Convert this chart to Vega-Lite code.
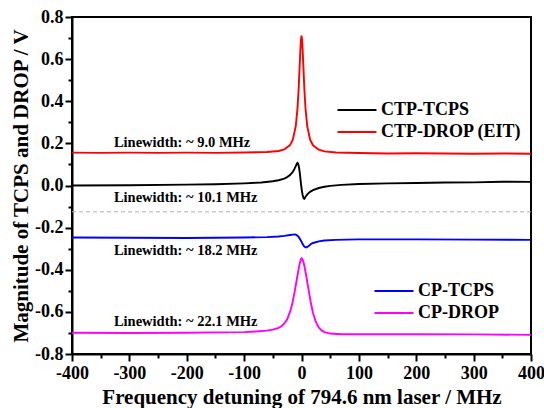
{
  "$schema": "https://vega.github.io/schema/vega-lite/v6.json",
  "width": 459,
  "height": 337,
  "autosize": {"type": "none"},
  "padding": {"left": 72, "top": 17, "right": 13, "bottom": 54},
  "background": "white",
  "datasets": {
    "curves": [
      {"s": "CTP-DROP (EIT)", "x": -400, "y": 0.156},
      {"s": "CTP-DROP (EIT)", "x": -350, "y": 0.155},
      {"s": "CTP-DROP (EIT)", "x": -300, "y": 0.156},
      {"s": "CTP-DROP (EIT)", "x": -250, "y": 0.155},
      {"s": "CTP-DROP (EIT)", "x": -200, "y": 0.156},
      {"s": "CTP-DROP (EIT)", "x": -150, "y": 0.155},
      {"s": "CTP-DROP (EIT)", "x": -100, "y": 0.157},
      {"s": "CTP-DROP (EIT)", "x": -60, "y": 0.159},
      {"s": "CTP-DROP (EIT)", "x": -40, "y": 0.164},
      {"s": "CTP-DROP (EIT)", "x": -30, "y": 0.171},
      {"s": "CTP-DROP (EIT)", "x": -20, "y": 0.192},
      {"s": "CTP-DROP (EIT)", "x": -15, "y": 0.219},
      {"s": "CTP-DROP (EIT)", "x": -10, "y": 0.282},
      {"s": "CTP-DROP (EIT)", "x": -7, "y": 0.365},
      {"s": "CTP-DROP (EIT)", "x": -5, "y": 0.457},
      {"s": "CTP-DROP (EIT)", "x": -3, "y": 0.581},
      {"s": "CTP-DROP (EIT)", "x": -2, "y": 0.643},
      {"s": "CTP-DROP (EIT)", "x": -1, "y": 0.690},
      {"s": "CTP-DROP (EIT)", "x": 0, "y": 0.711},
      {"s": "CTP-DROP (EIT)", "x": 1, "y": 0.690},
      {"s": "CTP-DROP (EIT)", "x": 2, "y": 0.643},
      {"s": "CTP-DROP (EIT)", "x": 3, "y": 0.581},
      {"s": "CTP-DROP (EIT)", "x": 5, "y": 0.457},
      {"s": "CTP-DROP (EIT)", "x": 7, "y": 0.365},
      {"s": "CTP-DROP (EIT)", "x": 10, "y": 0.282},
      {"s": "CTP-DROP (EIT)", "x": 15, "y": 0.218},
      {"s": "CTP-DROP (EIT)", "x": 20, "y": 0.191},
      {"s": "CTP-DROP (EIT)", "x": 30, "y": 0.170},
      {"s": "CTP-DROP (EIT)", "x": 40, "y": 0.162},
      {"s": "CTP-DROP (EIT)", "x": 60, "y": 0.157},
      {"s": "CTP-DROP (EIT)", "x": 100, "y": 0.154},
      {"s": "CTP-DROP (EIT)", "x": 150, "y": 0.152},
      {"s": "CTP-DROP (EIT)", "x": 200, "y": 0.153},
      {"s": "CTP-DROP (EIT)", "x": 250, "y": 0.152},
      {"s": "CTP-DROP (EIT)", "x": 300, "y": 0.151},
      {"s": "CTP-DROP (EIT)", "x": 350, "y": 0.152},
      {"s": "CTP-DROP (EIT)", "x": 400, "y": 0.151},

      {"s": "CTP-TCPS", "x": -400, "y": 0.000},
      {"s": "CTP-TCPS", "x": -300, "y": 0.001},
      {"s": "CTP-TCPS", "x": -200, "y": 0.004},
      {"s": "CTP-TCPS", "x": -150, "y": 0.006},
      {"s": "CTP-TCPS", "x": -100, "y": 0.010},
      {"s": "CTP-TCPS", "x": -70, "y": 0.014},
      {"s": "CTP-TCPS", "x": -50, "y": 0.020},
      {"s": "CTP-TCPS", "x": -40, "y": 0.025},
      {"s": "CTP-TCPS", "x": -30, "y": 0.033},
      {"s": "CTP-TCPS", "x": -25, "y": 0.040},
      {"s": "CTP-TCPS", "x": -20, "y": 0.050},
      {"s": "CTP-TCPS", "x": -15, "y": 0.065},
      {"s": "CTP-TCPS", "x": -12, "y": 0.080},
      {"s": "CTP-TCPS", "x": -10, "y": 0.092},
      {"s": "CTP-TCPS", "x": -8, "y": 0.104},
      {"s": "CTP-TCPS", "x": -7, "y": 0.107},
      {"s": "CTP-TCPS", "x": -6, "y": 0.104},
      {"s": "CTP-TCPS", "x": -5, "y": 0.095},
      {"s": "CTP-TCPS", "x": -4, "y": 0.080},
      {"s": "CTP-TCPS", "x": -3, "y": 0.060},
      {"s": "CTP-TCPS", "x": -2, "y": 0.035},
      {"s": "CTP-TCPS", "x": -1, "y": 0.010},
      {"s": "CTP-TCPS", "x": 0, "y": -0.012},
      {"s": "CTP-TCPS", "x": 1, "y": -0.030},
      {"s": "CTP-TCPS", "x": 2, "y": -0.045},
      {"s": "CTP-TCPS", "x": 3, "y": -0.056},
      {"s": "CTP-TCPS", "x": 4, "y": -0.062},
      {"s": "CTP-TCPS", "x": 5, "y": -0.063},
      {"s": "CTP-TCPS", "x": 6, "y": -0.058},
      {"s": "CTP-TCPS", "x": 8, "y": -0.050},
      {"s": "CTP-TCPS", "x": 10, "y": -0.042},
      {"s": "CTP-TCPS", "x": 15, "y": -0.030},
      {"s": "CTP-TCPS", "x": 20, "y": -0.022},
      {"s": "CTP-TCPS", "x": 30, "y": -0.012},
      {"s": "CTP-TCPS", "x": 40, "y": -0.006},
      {"s": "CTP-TCPS", "x": 50, "y": -0.002},
      {"s": "CTP-TCPS", "x": 70, "y": 0.003},
      {"s": "CTP-TCPS", "x": 100, "y": 0.007},
      {"s": "CTP-TCPS", "x": 150, "y": 0.010},
      {"s": "CTP-TCPS", "x": 200, "y": 0.012},
      {"s": "CTP-TCPS", "x": 250, "y": 0.014},
      {"s": "CTP-TCPS", "x": 300, "y": 0.015},
      {"s": "CTP-TCPS", "x": 350, "y": 0.018},
      {"s": "CTP-TCPS", "x": 400, "y": 0.017},

      {"s": "CP-TCPS", "x": -400, "y": -0.247},
      {"s": "CP-TCPS", "x": -300, "y": -0.248},
      {"s": "CP-TCPS", "x": -200, "y": -0.249},
      {"s": "CP-TCPS", "x": -100, "y": -0.247},
      {"s": "CP-TCPS", "x": -60, "y": -0.245},
      {"s": "CP-TCPS", "x": -40, "y": -0.242},
      {"s": "CP-TCPS", "x": -30, "y": -0.239},
      {"s": "CP-TCPS", "x": -20, "y": -0.235},
      {"s": "CP-TCPS", "x": -15, "y": -0.233},
      {"s": "CP-TCPS", "x": -12, "y": -0.232},
      {"s": "CP-TCPS", "x": -10, "y": -0.233},
      {"s": "CP-TCPS", "x": -8, "y": -0.236},
      {"s": "CP-TCPS", "x": -5, "y": -0.244},
      {"s": "CP-TCPS", "x": -2, "y": -0.257},
      {"s": "CP-TCPS", "x": 0, "y": -0.267},
      {"s": "CP-TCPS", "x": 2, "y": -0.278},
      {"s": "CP-TCPS", "x": 4, "y": -0.287},
      {"s": "CP-TCPS", "x": 6, "y": -0.292},
      {"s": "CP-TCPS", "x": 8, "y": -0.294},
      {"s": "CP-TCPS", "x": 10, "y": -0.292},
      {"s": "CP-TCPS", "x": 13, "y": -0.286},
      {"s": "CP-TCPS", "x": 16, "y": -0.279},
      {"s": "CP-TCPS", "x": 20, "y": -0.273},
      {"s": "CP-TCPS", "x": 30, "y": -0.265},
      {"s": "CP-TCPS", "x": 40, "y": -0.261},
      {"s": "CP-TCPS", "x": 60, "y": -0.258},
      {"s": "CP-TCPS", "x": 100, "y": -0.256},
      {"s": "CP-TCPS", "x": 200, "y": -0.256},
      {"s": "CP-TCPS", "x": 300, "y": -0.257},
      {"s": "CP-TCPS", "x": 400, "y": -0.258},

      {"s": "CP-DROP", "x": -400, "y": -0.699},
      {"s": "CP-DROP", "x": -300, "y": -0.700},
      {"s": "CP-DROP", "x": -200, "y": -0.699},
      {"s": "CP-DROP", "x": -100, "y": -0.696},
      {"s": "CP-DROP", "x": -80, "y": -0.693},
      {"s": "CP-DROP", "x": -60, "y": -0.689},
      {"s": "CP-DROP", "x": -50, "y": -0.684},
      {"s": "CP-DROP", "x": -40, "y": -0.676},
      {"s": "CP-DROP", "x": -35, "y": -0.668},
      {"s": "CP-DROP", "x": -30, "y": -0.655},
      {"s": "CP-DROP", "x": -25, "y": -0.635},
      {"s": "CP-DROP", "x": -20, "y": -0.600},
      {"s": "CP-DROP", "x": -16, "y": -0.560},
      {"s": "CP-DROP", "x": -12, "y": -0.505},
      {"s": "CP-DROP", "x": -8, "y": -0.442},
      {"s": "CP-DROP", "x": -5, "y": -0.397},
      {"s": "CP-DROP", "x": -3, "y": -0.369},
      {"s": "CP-DROP", "x": -1, "y": -0.350},
      {"s": "CP-DROP", "x": 0, "y": -0.346},
      {"s": "CP-DROP", "x": 1, "y": -0.347},
      {"s": "CP-DROP", "x": 3, "y": -0.360},
      {"s": "CP-DROP", "x": 5, "y": -0.381},
      {"s": "CP-DROP", "x": 8, "y": -0.425},
      {"s": "CP-DROP", "x": 12, "y": -0.490},
      {"s": "CP-DROP", "x": 16, "y": -0.553},
      {"s": "CP-DROP", "x": 20, "y": -0.605},
      {"s": "CP-DROP", "x": 25, "y": -0.648},
      {"s": "CP-DROP", "x": 30, "y": -0.674},
      {"s": "CP-DROP", "x": 35, "y": -0.688},
      {"s": "CP-DROP", "x": 40, "y": -0.696},
      {"s": "CP-DROP", "x": 50, "y": -0.703},
      {"s": "CP-DROP", "x": 70, "y": -0.706},
      {"s": "CP-DROP", "x": 100, "y": -0.706},
      {"s": "CP-DROP", "x": 200, "y": -0.706},
      {"s": "CP-DROP", "x": 300, "y": -0.707},
      {"s": "CP-DROP", "x": 400, "y": -0.709}
    ],
    "notes": [
      {"x": -327, "y": 0.200, "t": "Linewidth: ~ 9.0 MHz"},
      {"x": -327, "y": -0.057, "t": "Linewidth: ~ 10.1 MHz"},
      {"x": -327, "y": -0.313, "t": "Linewidth: ~ 18.2 MHz"},
      {"x": -327, "y": -0.646, "t": "Linewidth: ~ 22.1 MHz"}
    ]
  },
  "layer": [
    {
      "data": {"values": [{"v": -0.125}]},
      "mark": {"type": "rule", "color": "#b0b0b0", "strokeDash": [4, 3], "strokeWidth": 1},
      "encoding": {
        "y": {"field": "v", "type": "quantitative", "axis": null}
      }
    },
    {
      "data": {"name": "curves"},
      "transform": [{"filter": {"field": "s", "oneOf": ["CTP-TCPS", "CTP-DROP (EIT)"]}}],
      "mark": {"type": "line", "strokeWidth": 1.9, "clip": true},
      "encoding": {
        "x": {
          "field": "x", "type": "quantitative",
          "scale": {"domain": [-400, 400], "nice": false, "zero": false},
          "axis": {
            "orient": "bottom",
            "values": [-400, -350, -300, -250, -200, -150, -100, -50, 0, 50, 100, 150, 200, 250, 300, 350, 400],
            "labelExpr": "datum.value % 100 != 0 ? '' : (datum.value < 0 ? '-' + format(-datum.value, 'd') : format(datum.value, 'd'))",
            "tickSize": {"condition": {"test": "datum.value % 100 != 0", "value": 4}, "value": 7},
            "labelPadding": 3,
            "title": "Frequency detuning of 794.6 nm laser / MHz",
            "titlePadding": 4,
            "labelFlush": false,
            "labelOverlap": false
          }
        },
        "y": {
          "field": "y", "type": "quantitative",
          "scale": {"domain": [-0.8, 0.8], "nice": false, "zero": false},
          "axis": {
            "orient": "left",
            "values": [-0.8, -0.7, -0.6, -0.5, -0.4, -0.3, -0.2, -0.1, 0, 0.1, 0.2, 0.3, 0.4, 0.5, 0.6, 0.7, 0.8],
            "labelExpr": "abs(round(datum.value * 10)) % 2 == 1 ? '' : (datum.value < -0.0001 ? '-' + format(-datum.value, '.1f') : format(abs(datum.value), '.1f'))",
            "tickSize": {"condition": {"test": "abs(round(datum.value * 10)) % 2 == 1", "value": 4}, "value": 7},
            "labelPadding": 2,
            "title": "Magnitude of TCPS and DROP / V",
            "titlePadding": 3,
            "labelFlush": false,
            "labelOverlap": false
          }
        },
        "color": {
          "field": "s", "type": "nominal",
          "scale": {"domain": ["CTP-TCPS", "CTP-DROP (EIT)"], "range": ["#000000", "#ff0000"]},
          "legend": {
            "orient": "none", "legendX": 276, "legendY": 84, "title": null, "padding": 0,
            "symbolType": "M-3,0H3", "symbolSize": 169, "symbolStrokeWidth": 2,
            "labelOffset": 15, "labelFontSize": 18, "labelFont": "Liberation Serif",
            "labelFontWeight": "bold", "labelColor": "black", "rowPadding": 4, "labelLimit": 300
          }
        }
      }
    },
    {
      "data": {"name": "curves"},
      "transform": [{"filter": {"field": "s", "oneOf": ["CP-TCPS", "CP-DROP"]}}],
      "mark": {"type": "line", "strokeWidth": 1.9, "clip": true},
      "encoding": {
        "x": {"field": "x", "type": "quantitative", "axis": null},
        "y": {"field": "y", "type": "quantitative", "axis": null},
        "color": {
          "field": "s", "type": "nominal",
          "scale": {"domain": ["CP-TCPS", "CP-DROP"], "range": ["#0000ff", "#ff00ff"]},
          "legend": {
            "orient": "none", "legendX": 313, "legendY": 265, "title": null, "padding": 0,
            "symbolType": "M-3,0H3", "symbolSize": 169, "symbolStrokeWidth": 2,
            "labelOffset": 15, "labelFontSize": 18, "labelFont": "Liberation Serif",
            "labelFontWeight": "bold", "labelColor": "black", "rowPadding": 4, "labelLimit": 300
          }
        }
      }
    },
    {
      "data": {"name": "notes"},
      "mark": {"type": "text", "align": "left", "baseline": "middle", "font": "Liberation Serif", "fontWeight": "bold", "fontSize": 14.5, "color": "black"},
      "encoding": {
        "x": {"field": "x", "type": "quantitative", "axis": null},
        "y": {"field": "y", "type": "quantitative", "axis": null},
        "text": {"field": "t", "type": "nominal"}
      }
    }
  ],
  "resolve": {
    "scale": {"color": "independent"},
    "axis": {"x": "independent", "y": "independent"}
  },
  "config": {
    "font": "Liberation Serif",
    "view": {"stroke": "black", "strokeWidth": 2},
    "axis": {
      "labelFont": "Liberation Serif", "labelFontWeight": "bold", "labelFontSize": 18, "labelColor": "black",
      "titleFont": "Liberation Serif", "titleFontWeight": "bold", "titleFontSize": 21, "titleColor": "black",
      "domainColor": "black", "domainWidth": 2, "tickColor": "black", "tickWidth": 2, "grid": false
    }
  }
}
